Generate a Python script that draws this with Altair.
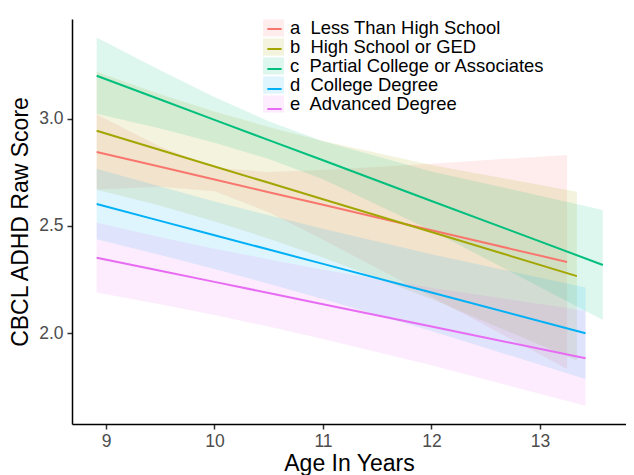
import altair as alt
import pandas as pd

# ---- data ----
groups = ["a\u00a0 Less Than High School", "b\u00a0 High School or GED",
          "c\u00a0 Partial College or Associates", "d\u00a0 College Degree",
          "e\u00a0 Advanced Degree"]
colors = ["#F8766D", "#A3A500", "#00BF7D", "#00B0F6", "#E76BF3"]

age_a = [8.914, 9.5, 10.0, 10.5, 11.0, 12.0, 13.25]
fit_a = [2.846, 2.777, 2.717, 2.658, 2.599, 2.480, 2.332]
low_a = [2.671, 2.683, 2.662, 2.564, 2.436, 2.169, 1.832]
upp_a = [3.021, 2.871, 2.772, 2.752, 2.762, 2.791, 2.832]

age_b = [8.914, 9.5, 10.0, 10.5, 11.0, 12.0, 13.34]
fit_b = [2.945, 2.855, 2.778, 2.702, 2.625, 2.472, 2.266]
low_b = [2.669, 2.594, 2.521, 2.441, 2.353, 2.159, 1.872]
upp_b = [3.221, 3.116, 3.035, 2.963, 2.897, 2.785, 2.660]

age_c = [8.914, 9.5, 10.0, 10.5, 11.0, 12.0, 13.58]
fit_c = [3.202, 3.091, 2.996, 2.901, 2.807, 2.617, 2.318]
low_c = [3.024, 2.955, 2.889, 2.813, 2.718, 2.479, 2.061]
upp_c = [3.380, 3.227, 3.103, 2.989, 2.896, 2.755, 2.575]

age_d = [8.914, 9.5, 10.0, 10.5, 11.0, 12.0, 13.42]
fit_d = [2.603, 2.524, 2.457, 2.390, 2.323, 2.189, 1.999]
low_d = [2.438, 2.364, 2.299, 2.230, 2.159, 2.010, 1.785]
upp_d = [2.768, 2.684, 2.615, 2.550, 2.487, 2.368, 2.213]

age_e = [8.914, 9.5, 10.0, 10.5, 11.0, 12.0, 13.42]
fit_e = [2.352, 2.291, 2.239, 2.187, 2.134, 2.030, 1.882]
low_e = [2.189, 2.134, 2.084, 2.030, 1.972, 1.849, 1.660]
upp_e = [2.515, 2.448, 2.394, 2.344, 2.296, 2.211, 2.104]

x_ticks = [9, 10, 11, 12, 13]
y_ticks = [2.0, 2.5, 3.0]

series = [
    (groups[0], age_a, fit_a, low_a, upp_a),
    (groups[1], age_b, fit_b, low_b, upp_b),
    (groups[2], age_c, fit_c, low_c, upp_c),
    (groups[3], age_d, fit_d, low_d, upp_d),
    (groups[4], age_e, fit_e, low_e, upp_e),
]
rows = []
for g, ages, fits, lows, upps in series:
    for a, f, lo, up in zip(ages, fits, lows, upps):
        rows.append({"edu": g, "edu2": g, "age": a, "fit": f,
                     "lower": lo, "upper": up})
df = pd.DataFrame(rows)

FONT = "Liberation Sans"

x_enc = alt.X("age:Q",
              scale=alt.Scale(domain=[8.6866, 13.793], nice=False, zero=False),
              axis=alt.Axis(values=x_ticks, title="Age In Years", grid=False,
                            format="d"))
y_scale = alt.Scale(domain=[1.575, 3.467], nice=False, zero=False)

legend_common = dict(orient="none", legendX=192, legendY=-0.5, title=None,
                     labelFont=FONT, labelFontSize=18.4, labelColor="black",
                     labelLimit=400, padding=0, rowPadding=0,
                     symbolSize=361, labelOffset=7)

ribbon = alt.Chart(df).mark_area(opacity=0.13).encode(
    x=x_enc,
    y=alt.Y("lower:Q", scale=y_scale,
            axis=alt.Axis(values=y_ticks, format=".1f",
                          title="CBCL ADHD Raw Score", grid=False)),
    y2="upper:Q",
    fill=alt.Fill("edu:N", scale=alt.Scale(domain=groups, range=colors),
                  legend=alt.Legend(symbolType="M-1.1,-0.9H1.1V0.9H-1.1Z",
                                    symbolOpacity=0.13, symbolStrokeWidth=0,
                                    **legend_common)),
)

line = alt.Chart(df).mark_line(strokeWidth=2).encode(
    x=x_enc,
    y=alt.Y("fit:Q", scale=y_scale),
    stroke=alt.Stroke("edu2:N", scale=alt.Scale(range=colors),
                      legend=alt.Legend(symbolType="M-0.75,0H0.75",
                                        symbolStrokeWidth=2, labelExpr="''",
                                        **legend_common)),
)

chart = alt.layer(ribbon, line).properties(
    width=554, height=405,
    autosize=alt.AutoSizeParams(type="none"),
    padding={"left": 64, "top": 11, "right": 0, "bottom": 60},
).configure_view(strokeWidth=0).configure_axis(
    domainColor="black", domainWidth=1.5,
    tickColor="#333333", tickWidth=1.5, tickSize=5,
    labelFont=FONT, labelFontSize=17.5, labelColor="#4d4d4d",
    titleFont=FONT, titleFontSize=23, titleColor="black",
    titleFontWeight="normal", labelPadding=3,
).configure_axisX(titlePadding=3).configure_axisY(titlePadding=6, labelPadding=4)

chart.save("out.html", embed_options={"renderer": "svg", "actions": False})
